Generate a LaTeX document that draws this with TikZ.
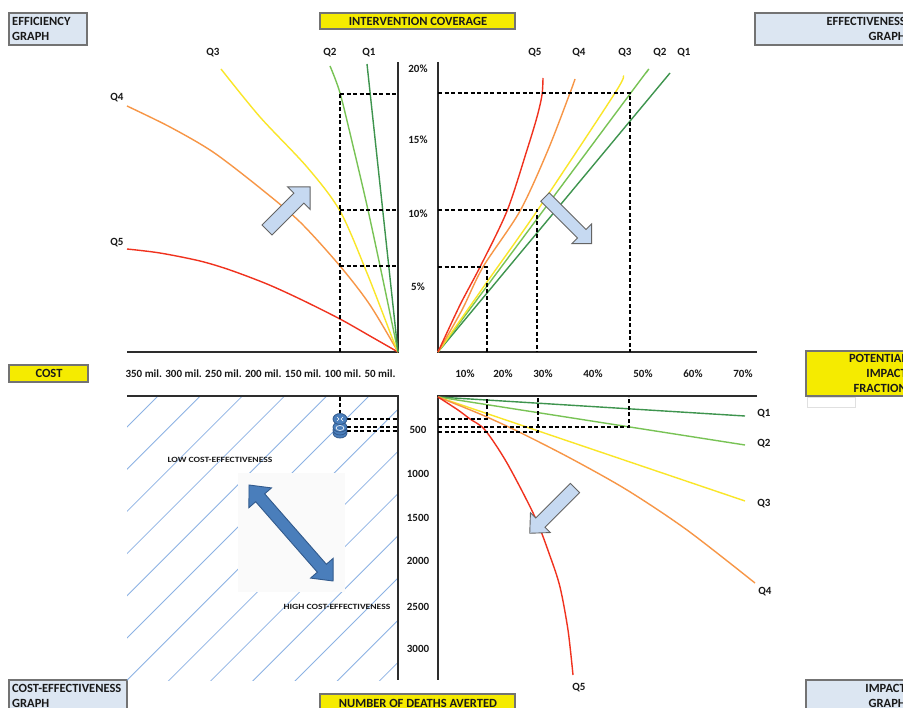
\documentclass[tikz,border=0pt]{standalone}
\usepackage{fontspec}
\setmainfont{Carlito}
\usepackage{graphicx}
\definecolor{qone}{RGB}{62,148,78}
\definecolor{qtwo}{RGB}{120,195,85}
\definecolor{qthree}{RGB}{250,230,40}
\definecolor{qfour}{RGB}{247,150,70}
\definecolor{qfive}{RGB}{240,50,30}
\definecolor{boxyellow}{RGB}{245,235,0}
\definecolor{boxblue}{RGB}{220,230,242}
\definecolor{boxgray}{RGB}{115,115,115}
\definecolor{arrowfill}{RGB}{198,217,241}
\definecolor{arrowdraw}{RGB}{100,100,100}
\definecolor{hatchblue}{RGB}{140,178,228}
\definecolor{darkarrow}{RGB}{74,126,187}
\definecolor{darkarrowdraw}{RGB}{50,90,140}
\definecolor{axisgray}{RGB}{45,45,45}
\definecolor{textgray}{RGB}{25,25,25}
\begin{document}
\begin{tikzpicture}[x=1pt,y=-1pt,
  bluebox/.style={draw=boxgray,line width=1.2pt,fill=boxblue},
  yelbox/.style={draw=boxgray,line width=1.2pt,fill=boxyellow},
  ttl/.style={font=\fontsize{12.5}{15}\selectfont\bfseries,inner sep=0pt,text=textgray},
  lbl/.style={font=\fontsize{11}{13}\selectfont\bfseries,inner sep=0pt,text=textgray},
  axisline/.style={line width=1.6pt,draw=axisgray},
  guide/.style={line width=1.5pt,draw=black,dash pattern=on 4pt off 2.5pt},
  crv/.style={line width=1.4pt},
  hatchline/.style={line width=0.8pt,draw=hatchblue},
  lightarrow/.style={fill=arrowfill,draw=arrowdraw,line width=0.9pt,line join=miter},
  bigarrow/.style={fill=darkarrow,draw=darkarrowdraw,line width=0.9pt},
  coin/.style={fill=darkarrow,draw=darkarrowdraw,line width=0.8pt}]
\useasboundingbox (0,0) rectangle (903,708);
\clip (0,0) rectangle (903,708);
\fill[white] (0,0) rectangle (903,708);

% ---------- title boxes ----------
\draw[bluebox] (9,13) rectangle (87,45);
\node[ttl,anchor=base west] (effA) at (12,26) {EFFICIENCY};
\node[ttl,anchor=base west] (effB) at (12,41) {GRAPH};

\draw[yelbox] (320,13) rectangle (515,29);
\node[ttl,anchor=base] (cov) at (418,26) {INTERVENTION COVERAGE};

\draw[bluebox] (755,13) rectangle (915,45);
\node[ttl,anchor=base east] (effcA) at (906,26) {EFFECTIVENESS};
\node[ttl,anchor=base east] (effcB) at (906,41) {GRAPH};

\draw[yelbox] (9,365) rectangle (88,382);
\node[ttl,anchor=base] (cost) at (49,378) {COST};

\draw[yelbox] (806,351) rectangle (915,396);
\node[ttl,anchor=base east] (pifA) at (907,363) {POTENTIAL};
\node[ttl,anchor=base east] (pifB) at (907,378) {IMPACT};
\node[ttl,anchor=base east] (pifC) at (907,393) {FRACTION};
\draw[draw=black!12,line width=0.6pt] (807,397) rectangle (855,407);

\draw[bluebox] (9,680) rectangle (127,720);
\node[ttl,anchor=base west] (ceA) at (12,692) {COST-EFFECTIVENESS};
\node[ttl,anchor=base west] (ceB) at (12,707) {GRAPH};

\draw[yelbox] (320,694) rectangle (515,720);
\node[ttl,anchor=base] (deaths) at (418,707) {NUMBER OF DEATHS AVERTED};

\draw[bluebox] (806,680) rectangle (915,720);
\node[ttl,anchor=base east] (impA) at (906,692) {IMPACT};
\node[ttl,anchor=base east] (impB) at (906,707) {GRAPH};

% ---------- hatching (cost-effectiveness quadrant) ----------
\begin{scope}
\clip (127,397) rectangle (398,680);
\foreach \k in {0,...,12}{
  \pgfmathsetmacro\c{554+42.2*\k}
  \draw[hatchline] ({\c-700},700) -- ({\c-380},380);
}
\fill[black!2] (238,473) rectangle (345,592);
\end{scope}

% ---------- axes ----------
\draw[axisline] (127,352) -- (398,352) -- (398,62);
\draw[axisline] (438,62) -- (438,352) -- (757,352);
\draw[axisline] (127,396) -- (398,396) -- (398,680);
\draw[axisline] (757,396) -- (438,396) -- (438,680);

% ---------- curves: efficiency ----------
\draw[crv,qfive] plot[smooth] coordinates {(398,352) (370,336) (340,319) (300,299) (267,284) (230,270) (200,261) (160,253) (127,249)};
\draw[crv,qfour] plot[smooth] coordinates {(398,352) (370,305) (340,266) (300,222) (260,188) (213,152) (170,127) (127,106)};
\draw[crv,qthree] plot[smooth] coordinates {(398,352) (393,340) (367,273) (340,211) (307,167) (260,117) (221,69)};
\draw[crv,qtwo] plot[smooth] coordinates {(398,352) (383,280) (368,210) (354,150) (340,93) (330,66)};
\draw[crv,qone] (398,352) -- (367,64);

% ---------- curves: effectiveness ----------
\draw[crv,qone] (438,352) -- (670,73);
\draw[crv,qtwo] plot[smooth] coordinates {(438,352) (630,94) (646,73)};
\draw[crv,qthree] plot[smooth] coordinates {(438,352) (487,282) (537,211) (615,93) (623,76)};
\draw[crv,qfour] plot[smooth] coordinates {(438,352) (462,310) (483,267) (520,211) (548,150) (570,93) (575,79)};
\draw[crv,qfive] plot[smooth] coordinates {(438,352) (460,305) (480,267) (507,211) (527,150) (537,117) (542,95) (543,78)};

% ---------- curves: impact ----------
\draw[crv,qone] (438,397) -- (745,416);
\draw[crv,qtwo] (438,397) -- (745,445);
\draw[crv,qthree] (438,397) -- (745,501);
\draw[crv,qfour] plot[smooth] coordinates {(438,397) (480,414) (517,431) (570,458) (627,490) (687,530) (755,583)};
\draw[crv,qfive] plot[smooth] coordinates {(438,397) (458,410) (470,419) (485,430) (507,463) (535,517) (550,556) (560,587) (568,630) (573,675)};

% ---------- dashed guides ----------
\draw[guide] (340,352) -- (340,94);
\draw[guide] (340,94) -- (398,94);
\draw[guide] (340,210) -- (398,210);
\draw[guide] (340,266) -- (398,266);

\draw[guide] (438,93) -- (630,93) -- (630,352);
\draw[guide] (438,210) -- (537,210) -- (537,352);
\draw[guide] (438,267) -- (487,267) -- (487,352);

\draw[guide] (340,397) -- (340,413);
\draw[guide] (347,419) -- (398,419);
\draw[guide] (347,427) -- (398,427);
\draw[guide] (347,431) -- (398,431);

\draw[guide] (438,419) -- (487,419) -- (487,397);
\draw[guide] (438,427) -- (629,427) -- (629,397);
\draw[guide] (438,432) -- (538,432) -- (538,397);

% ---------- coins ----------
\draw[coin] (340,433) ellipse [x radius=7,y radius=5];
\draw[coin] (340,430) ellipse [x radius=7,y radius=5];
\draw[coin] (340,427) ellipse [x radius=7,y radius=5];
\draw[white,line width=0.6pt] (340,428) ellipse [x radius=4,y radius=2.5];
\draw[coin] (340,419) ellipse [x radius=7,y radius=5.5];
\draw[white,line width=0.7pt] (337,417) -- (339,419) -- (337,421) (343,417) -- (341,419) -- (343,421);

% ---------- block arrows ----------
\begin{scope}[shift={(267,230)},rotate=45]
\draw[lightarrow] (0,-7) -- (45,-7) -- (45,-16) -- (61,0) -- (45,16) -- (45,7) -- (0,7) -- cycle;
\end{scope}
\begin{scope}[shift={(545,197)},rotate=-45]
\draw[lightarrow] (0,-6) -- (52,-6) -- (52,-14) -- (66,0) -- (52,14) -- (52,6) -- (0,6) -- cycle;
\end{scope}
\begin{scope}[shift={(575,488)},rotate=-135]
\draw[lightarrow] (0,-6.5) -- (49,-6.5) -- (49,-14) -- (64,0) -- (49,14) -- (49,6.5) -- (0,6.5) -- cycle;
\end{scope}
\begin{scope}[shift={(249,485)},rotate=-48.8]
\draw[bigarrow] (0,0) -- (17,15) -- (17,6) -- (110.6,6) -- (110.6,15) -- (127.6,0) -- (110.6,-15) -- (110.6,-6) -- (17,-6) -- (17,-15) -- cycle;
\end{scope}

% ---------- labels ----------
\node[lbl] (tlQ3) at (213,53) {Q3};
\node[lbl] (tlQ2) at (330,53) {Q2};
\node[lbl] (tlQ1) at (369,53) {Q1};
\node[lbl] (tlQ4) at (117,98) {Q4};
\node[lbl] (tlQ5) at (117,243) {Q5};

\node[lbl] (trQ5) at (535,53) {Q5};
\node[lbl] (trQ4) at (579,53) {Q4};
\node[lbl] (trQ3) at (625,53) {Q3};
\node[lbl] (trQ2) at (660,53) {Q2};
\node[lbl] (trQ1) at (684,53) {Q1};

\node[lbl] (brQ1) at (764,414) {Q1};
\node[lbl] (brQ2) at (764,444) {Q2};
\node[lbl] (brQ3) at (764,504) {Q3};
\node[lbl] (brQ4) at (765,592) {Q4};
\node[lbl] (brQ5) at (579,688) {Q5};

\node[lbl] (c20) at (418,69) {20\%};
\node[lbl] (c15) at (418,140) {15\%};
\node[lbl] (c10) at (418,214) {10\%};
\node[lbl] (c5) at (418,287) {5\%};

\node[lbl] (costaxis) at (260.5,374) {350 mil. 300 mil. 250 mil. 200 mil. 150 mil. 100 mil. 50 mil.};

\node[lbl] (p10) at (465,374) {10\%};
\node[lbl] (p20) at (503,374) {20\%};
\node[lbl] (p30) at (543,374) {30\%};
\node[lbl] (p40) at (593,374) {40\%};
\node[lbl] (p50) at (643,374) {50\%};
\node[lbl] (p60) at (693,374) {60\%};
\node[lbl] (p70) at (743,374) {70\%};

\node[lbl] (d500) at (418,430) {500};
\node[lbl] (d1000) at (418,474) {1000};
\node[lbl] (d1500) at (418,518) {1500};
\node[lbl] (d2000) at (418,561) {2000};
\node[lbl] (d2500) at (418,607) {2500};
\node[lbl] (d3000) at (418,649) {3000};

\node[inner sep=0pt,text=textgray] (lowce) at (220,460) {\scalebox{1.2}[1]{\fontsize{8}{10}\selectfont\bfseries LOW COST-EFFECTIVENESS}};
\node[inner sep=0pt,text=textgray] (highce) at (337,607) {\scalebox{1.2}[1]{\fontsize{8}{10}\selectfont\bfseries HIGH COST-EFFECTIVENESS}};
\end{tikzpicture}
\end{document}
